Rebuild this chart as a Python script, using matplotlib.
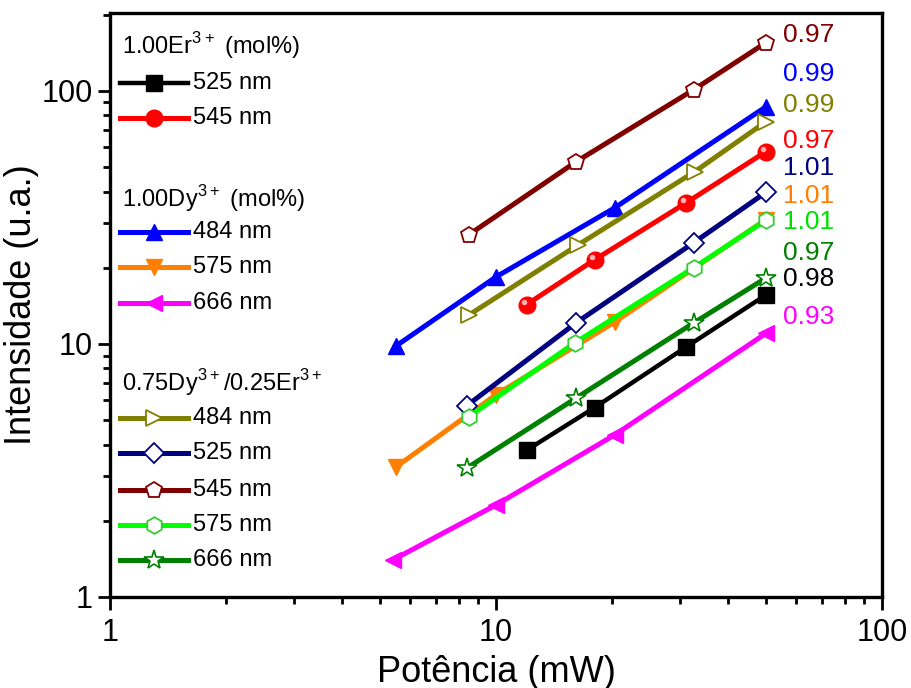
import numpy as np
import matplotlib.pyplot as plt
import matplotlib.transforms as mtransforms
from matplotlib.lines import Line2D
from matplotlib.ticker import LogLocator, NullFormatter, FixedLocator, FixedFormatter

plt.rcParams['font.family'] = ['Liberation Sans', 'DejaVu Sans']
plt.rcParams['mathtext.fontset'] = 'custom'
plt.rcParams['mathtext.rm'] = 'Liberation Sans'

# data (power in mW, intensity in a.u.)
x_er525 = [12, 18, 31, 50]
y_er525 = [3.8, 5.6, 9.7, 15.6]
x_er545 = [12, 18, 31, 50]
y_er545 = [14.3, 21.5, 36.0, 57.5]

x_dy484 = [5.5, 10, 20.3, 50]
y_dy484 = [9.8, 18.4, 34.5, 86.5]
x_dy575 = [5.5, 10, 20.3, 50]
y_dy575 = [3.26, 6.3, 12.2, 31.0]
x_dy666 = [5.4, 10, 20.3, 50]
y_dy666 = [1.40, 2.31, 4.37, 11.0]

x_co484 = [8.5, 16.3, 32.7, 50]
y_co484 = [13.0, 24.6, 47.9, 75.5]
x_co525 = [8.4, 16.1, 32.5, 50]
y_co525 = [5.7, 12.1, 25.1, 39.7]
x_co545 = [8.5, 16.1, 32.5, 50]
y_co545 = [27.0, 52.4, 101, 155]
x_co575 = [8.5, 16.0, 32.5, 50]
y_co575 = [5.15, 10.1, 20.0, 30.8]
x_co666 = [8.4, 16.1, 32.5, 50]
y_co666 = [3.23, 6.1, 12.1, 18.2]

slopes = ['0.97', '0.99', '0.99', '0.97', '1.01', '1.01', '1.01', '0.97', '0.98', '0.93']
slope_colors = ['#800000', '#0000FF', '#808000', '#FF0000', '#000080',
                '#FF8000', '#00E000', '#008000', '#000000', '#FF00FF']
slope_y = [166, 117, 88, 63.5, 49.6, 38.5, 30.4, 22.9, 18.1, 12.8]

fig = plt.figure(figsize=(9.12, 6.88), dpi=100)
ax = fig.add_axes([0.1206, 0.1323, 0.8465, 0.8487])

lw = 3.6
ms = 12
series = [
    (x_er525, y_er525, dict(color='#000000', marker='s', mfc='#000000', mec='#000000', lw=3.2), '525 nm'),
    (x_er545, y_er545, dict(color='#FF0000', marker='o', mfc='#FF0000', mec='#FF0000'), '545 nm'),
    (x_dy484, y_dy484, dict(color='#0000FF', marker='^', mfc='#0000FF', mec='#0000FF'), '484 nm'),
    (x_dy575, y_dy575, dict(color='#FF8000', marker='v', mfc='#FF8000', mec='#FF8000'), '575 nm'),
    (x_dy666, y_dy666, dict(color='#FF00FF', marker='<', mfc='#FF00FF', mec='#FF00FF'), '666 nm'),
    (x_co484, y_co484, dict(color='#808000', marker='>', mfc='white', mec='#808000', mew=1.3), '484 nm'),
    (x_co525, y_co525, dict(color='#000080', marker='D', mfc='white', mec='#000080', mew=1.3, ms=10), '525 nm'),
    (x_co545, y_co545, dict(color='#800000', marker='p', mfc='white', mec='#800000', mew=1.3), '545 nm'),
    (x_co575, y_co575, dict(color='#00FF00', marker='h', mfc='white', mec='#33CC33', mew=1.3), '575 nm'),
    (x_co666, y_co666, dict(color='#008000', marker='*', mfc='white', mec='#008000', mew=1.2, ms=15), '666 nm'),
]

lines = []
for xs, ys, st, lab in series:
    kw = dict(lw=lw, ms=ms)
    kw.update(st)
    h, = ax.plot(xs, ys, label=lab, zorder=3, **kw)
    lines.append(h)

# little shine on the red balls
shine = ax.transData + mtransforms.ScaledTranslation(-2 / 72, 2 / 72, fig.dpi_scale_trans)
ax.plot(x_er545, y_er545, linestyle='none', marker='o', ms=4, mfc='#FFB0B0',
        mec='none', transform=shine, zorder=4)

# slope values next to the last point of each series
for txt, col, yv in zip(slopes, slope_colors, slope_y):
    ax.text(55.5, yv, txt, color=col, fontsize=19, va='center', ha='left')

ax.set_xscale('log')
ax.set_yscale('log')
ax.set_xlim(1, 100)
ax.set_ylim(1, 203)

ax.xaxis.set_major_locator(FixedLocator([1, 10, 100]))
ax.xaxis.set_major_formatter(FixedFormatter(['1', '10', '100']))
ax.yaxis.set_major_locator(FixedLocator([1, 10, 100]))
ax.yaxis.set_major_formatter(FixedFormatter(['1', '10', '100']))
ax.xaxis.set_minor_locator(LogLocator(base=10, subs=np.arange(2, 10)))
ax.yaxis.set_minor_locator(LogLocator(base=10, subs=np.arange(2, 10)))
ax.xaxis.set_minor_formatter(NullFormatter())
ax.yaxis.set_minor_formatter(NullFormatter())

ax.tick_params(which='major', direction='out', length=9, width=2, labelsize=22)
ax.tick_params(which='minor', direction='out', length=5, width=2)
ax.tick_params(axis='x', pad=6)
for s in ax.spines.values():
    s.set_linewidth(2.4)

ax.set_xlabel('Potência (mW)', fontsize=26, labelpad=5)
ax.set_ylabel('Intensidade (u.a.)', fontsize=26, labelpad=2)

# hand-placed legend (Origin style, with group titles)
titles = [r'1.00Er$^{3+}$ (mol%)', r'1.00Dy$^{3+}$ (mol%)', r'0.75Dy$^{3+}$/0.25Er$^{3+}$']
title_rows = [0.944, 0.683, 0.368]
entry_rows = [0.881, 0.821, 0.625, 0.565, 0.503, 0.307, 0.247, 0.183, 0.123, 0.063]
for t, yy in zip(titles, title_rows):
    ax.text(0.0155, yy, t, transform=ax.transAxes, fontsize=17, va='center')
for h, yy in zip(lines, entry_rows):
    seg = Line2D([0.013, 0.101], [yy, yy], transform=ax.transAxes,
                 color=h.get_color(), lw=h.get_linewidth(), zorder=4)
    mk = Line2D([0.057], [yy], transform=ax.transAxes, linestyle='none',
                marker=h.get_marker(), ms=h.get_markersize(),
                mfc=h.get_markerfacecolor(), mec=h.get_markeredgecolor(),
                mew=h.get_markeredgewidth(), zorder=5)
    ax.add_line(seg)
    ax.add_line(mk)
    ax.text(0.1075, yy, h.get_label(), transform=ax.transAxes, fontsize=17, va='center')

fig.savefig('out.png', dpi=100)
